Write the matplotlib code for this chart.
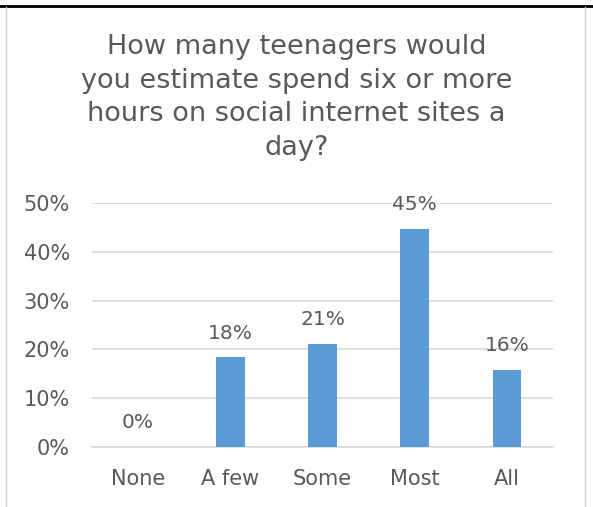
import matplotlib.pyplot as plt
from matplotlib.lines import Line2D

categorias = ["None", "A few", "Some", "Most", "All"]
valores = [0.0, 18.4, 21.1, 44.7, 15.8]
ticks_y = [0, 10, 20, 30, 40, 50]

titulo = "How many teenagers would\nyou estimate spend six or more\nhours on social internet sites a\nday?"
cinza = "#595959"

plt.rcParams['font.family'] = ['DejaVu Sans']

fig = plt.figure(figsize=(5.93, 5.07), dpi=100)
ax = fig.add_axes([92 / 593, 1 - 447 / 507, (553 - 92) / 593, (447 - 203) / 507])

x = range(len(categorias))
ax.bar(x, valores, width=0.31, color="#5B9BD5", zorder=3)
for xi, v in zip(x, valores):
    ax.text(xi, v + 3.0, f"{v:.0f}%", ha="center", va="bottom", fontsize=14.5, color=cinza)

ax.set_ylim(0, 50)
ax.set_xlim(-0.5, len(categorias) - 0.5)
ax.set_yticks(ticks_y)
ax.set_yticklabels([f"{t}%" for t in ticks_y], fontsize=15, color=cinza)
ax.set_xticks(list(x))
ax.set_xticklabels(categorias, fontsize=15, color=cinza)
ax.tick_params(axis="y", length=0, pad=16)
ax.tick_params(axis="x", length=0, pad=16)
ax.yaxis.grid(True, color="#D9D9D9", linewidth=1.2, zorder=0)
for lado in ["top", "right", "left"]:
    ax.spines[lado].set_visible(False)
ax.spines["bottom"].set_color("#D9D9D9")
ax.spines["bottom"].set_linewidth(1.2)

fig.text(0.5, 1 - 34 / 507, titulo, ha="center", va="top", fontsize=19.5, color=cinza,
         linespacing=1.38)

# bordas do quadro
fig.add_artist(Line2D([0, 1], [1 - 6 / 507, 1 - 6 / 507], color="black", linewidth=2))
fig.add_artist(Line2D([6 / 593, 6 / 593], [0, 1 - 7 / 507], color="#D0D0D0", linewidth=1))
fig.add_artist(Line2D([585 / 593, 585 / 593], [0, 1 - 7 / 507], color="#D0D0D0", linewidth=1))

fig.savefig("out.png", dpi=100)
